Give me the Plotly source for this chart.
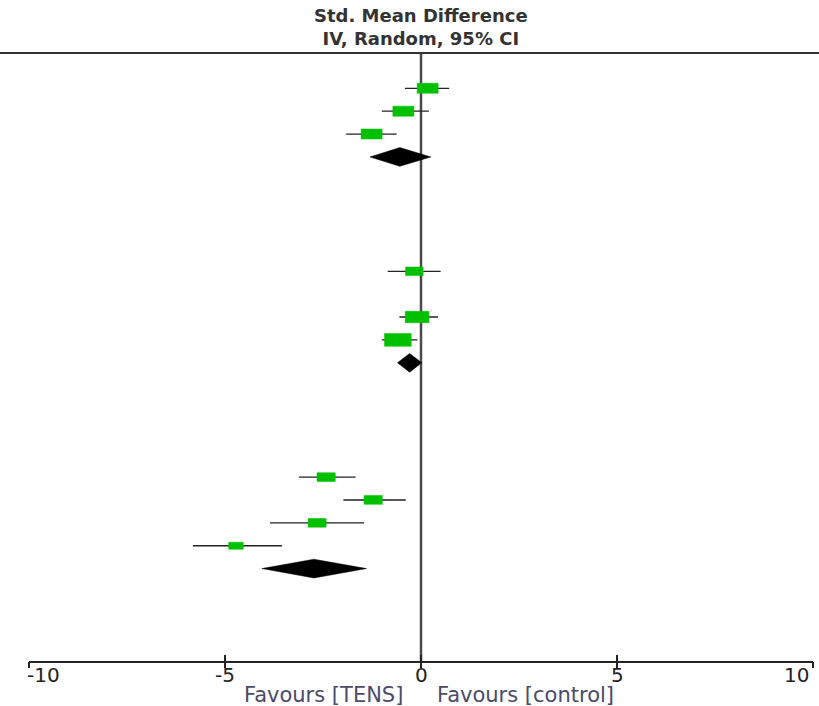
import numpy as np
import plotly.graph_objects as go

# ---- data ----
study_row = [0, 1, 2, 8, 10, 11, 17, 18, 19, 20]
smd = [0.17, -0.45, -1.26, -0.17, -0.10, -0.59, -2.42, -1.22, -2.65, -4.72]
ci_lo = [-0.41, -1.00, -1.91, -0.85, -0.55, -1.00, -3.11, -1.98, -3.85, -5.82]
ci_hi = [0.72, 0.20, -0.62, 0.50, 0.43, -0.09, -1.67, -0.39, -1.45, -3.55]
weight = [10.7, 10.7, 10.7, 7.5, 13.6, 17.3, 8.1, 8.1, 7.9, 5.2]

pooled_row = [3, 12, 21]
pooled_smd = [-0.54, -0.29, -2.73]
pooled_lo = [-1.30, -0.60, -4.06]
pooled_hi = [0.25, 0.02, -1.39]

tick_vals = [-10, -5, 0, 5, 10]
tick_text = ["-10", "-5", "0", "5", "10"]
title_lines = ["Std. Mean Difference", "IV, Random, 95% CI"]
favours_left = "Favours [TENS]"
favours_right = "Favours [control]"

# ---- geometry helpers ----
PX_PER_UNIT = 784 / 20.0
PX_PER_ROW = 22.87
BOX_K = 6.42          # box width (px) per sqrt(weight)
BOX_ASPECT = 0.48     # height / width (px)
DIAMOND_HALF = 0.41   # rows

GREEN = "#00c000"
LINE = "#222222"

fig = go.Figure()

# CI whiskers
wx, wy = [], []
for r, lo, hi in zip(study_row, ci_lo, ci_hi):
    wx += [lo, hi, None]
    wy += [r, r, None]
fig.add_trace(go.Scatter(x=wx, y=wy, mode="lines",
                         line=dict(color=LINE, width=1.3),
                         hoverinfo="skip", showlegend=False))

# weight boxes
bx, by = [], []
for r, e, w in zip(study_row, smd, weight):
    wpx = BOX_K * np.sqrt(w)
    hw = wpx / PX_PER_UNIT / 2
    hh = wpx * BOX_ASPECT / PX_PER_ROW / 2
    bx += [e - hw, e + hw, e + hw, e - hw, e - hw, None]
    by += [r - hh, r - hh, r + hh, r + hh, r - hh, None]
fig.add_trace(go.Scatter(x=bx, y=by, mode="lines", fill="toself",
                         fillcolor=GREEN, line=dict(color=GREEN, width=0.5),
                         hoverinfo="skip", showlegend=False))

# pooled diamonds
dx, dy = [], []
for r, e, lo, hi in zip(pooled_row, pooled_smd, pooled_lo, pooled_hi):
    dx += [lo, e, hi, e, lo, None]
    dy += [r, r - DIAMOND_HALF, r, r + DIAMOND_HALF, r, None]
fig.add_trace(go.Scatter(x=dx, y=dy, mode="lines", fill="toself",
                         fillcolor="black", line=dict(color="black", width=0.5),
                         hoverinfo="skip", showlegend=False))

# dummy trace to carry the second (outward ticks) axis
fig.add_trace(go.Scatter(x=[tick_vals[0], tick_vals[-1]], y=[None, None],
                         xaxis="x2", mode="markers", hoverinfo="skip",
                         showlegend=False))

# vertical no-effect line and top rule
fig.add_shape(type="line", xref="x", yref="paper", x0=0, x1=0, y0=0, y1=1,
              line=dict(color="#4a4a4a", width=2.5), layer="below")
fig.add_shape(type="line", xref="paper", yref="paper",
              x0=-29 / 784, x1=1 + 6 / 784, y0=1, y1=1,
              line=dict(color="#333333", width=2))

# tick labels
for v, t in zip(tick_vals, tick_text):
    if v == tick_vals[0]:
        xa, xs = "left", -4
    elif v == tick_vals[-1]:
        xa, xs = "right", -2
    else:
        xa, xs = "center", 0
    fig.add_annotation(x=v, xref="x", y=-0.0238, yref="paper", text=t,
                       showarrow=False, xanchor=xa, yanchor="middle", xshift=xs,
                       font=dict(family="DejaVu Sans", size=20, color="#222222"))

# favours labels
fig.add_annotation(x=-0.41, xref="x", y=-0.0559, yref="paper", text=favours_left,
                   showarrow=False, xanchor="right", yanchor="middle",
                   font=dict(family="DejaVu Sans", size=21, color="#4b4b6b"))
fig.add_annotation(x=0.36, xref="x", y=-0.0559, yref="paper", text=favours_right,
                   showarrow=False, xanchor="left", yanchor="middle",
                   font=dict(family="DejaVu Sans", size=21, color="#4b4b6b"))

# header (two lines in one text block)
fig.add_annotation(x=0, xref="x", y=(661 - 27.5) / 608, yref="paper",
                   text="<br>".join(title_lines),
                   showarrow=False, xanchor="center", yanchor="middle",
                   align="center", borderpad=0,
                   font=dict(family="DejaVu Sans", size=18, color="#333333",
                             weight="bold"))

fig.update_layout(
    width=819, height=706,
    margin=dict(l=29, r=6, t=53, b=45),
    paper_bgcolor="white", plot_bgcolor="white",
    showlegend=False,
    xaxis=dict(range=[-10, 10], tickvals=tick_vals, ticks="inside", ticklen=6,
               tickwidth=2, tickcolor=LINE, showline=True, linewidth=2,
               linecolor=LINE, showgrid=False, zeroline=False,
               showticklabels=False, fixedrange=True),
    xaxis2=dict(range=[-10, 10], tickvals=tick_vals, ticks="outside", ticklen=6,
                tickwidth=2, tickcolor=LINE, overlaying="x", anchor="y",
                side="bottom", showline=False, showgrid=False, zeroline=False,
                showticklabels=False, fixedrange=True),
    yaxis=dict(range=[25.04, -1.544], visible=False, fixedrange=True),
)

fig.write_html("out.html")
